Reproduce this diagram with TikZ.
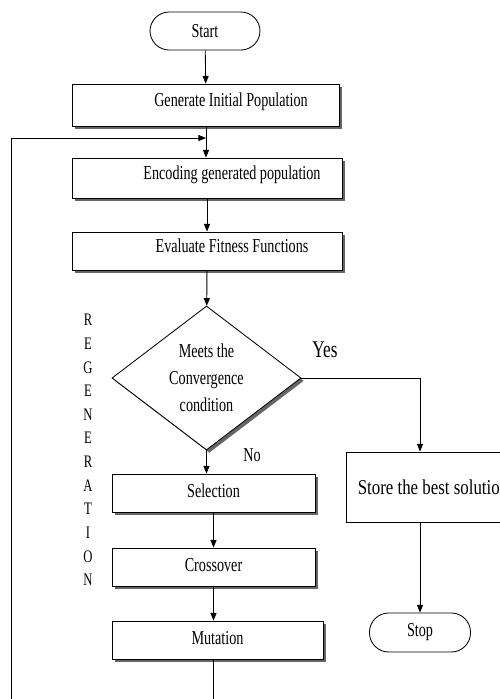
\documentclass[tikz,border=0pt]{standalone}
\usepackage{fontspec}
\setmainfont{Liberation Serif}
\newfontfamily\narrowfont[FakeStretch=0.72]{Liberation Serif}
\newfontfamily\storefont[FakeStretch=0.8]{Liberation Serif}
\usetikzlibrary{arrows.meta,positioning,shapes.geometric,shadows}

\tikzset{
  boxshadow/.style={drop shadow={shadow xshift=0.07cm, shadow yshift=-0.07cm, opacity=1, fill=black!60}},
  flowbox/.style={draw, fill=white, line width=0.6pt, minimum height=0.95cm,
    font=\narrowfont\fontsize{14}{17}\selectfont, text height=0.35cm, text depth=0.12cm, boxshadow},
  raised/.style={text height=0.35cm, text depth=0.27cm},
  terminal/.style={draw, fill=white, line width=0.6pt, rounded corners=0.48cm,
    font=\narrowfont\fontsize{14}{17}\selectfont},
  tag/.style={font=\narrowfont\fontsize{14}{17}\selectfont}
}

\begin{document}
\begin{tikzpicture}[x=0.025cm, y=-0.025cm, >={Triangle[length=1.9mm,width=1.5mm]}, line width=0.6pt]

\useasboundingbox (0,0) rectangle (500,699);
\clip (0,0) rectangle (500,699);

% Nodes
\node[terminal, minimum width=2.75cm, minimum height=0.95cm] (start) at (205,31) {Start};
\node[flowbox, raised, minimum width=6.675cm, minimum height=1.05cm] (gen) at (206,105) {\hspace*{1.25cm}Generate Initial Population};
\node[flowbox, raised, minimum width=6.75cm, minimum height=1.0cm] (enc) at (207,178) {\hspace*{1.25cm}Encoding generated population};
\node[flowbox, raised, minimum width=6.75cm] (eval) at (207,251) {\hspace*{1.25cm}Evaluate Fitness Functions};
\node[diamond, draw, fill=white, aspect=1.31, minimum width=4.725cm, minimum height=3.6cm, inner sep=0pt,
  align=center, font=\narrowfont\fontsize{14}{19.2}\selectfont, boxshadow] (cond) at (206.5,378) {Meets the\\Convergence\\condition};
\node[flowbox, minimum width=5.075cm] (sel) at (213.5,493) {Selection};
\node[flowbox, minimum width=5.075cm] (cross) at (213.5,567) {Crossover};
\node[flowbox, minimum width=5.275cm] (mut) at (217.5,640) {Mutation};
\node[draw, fill=white, minimum width=4.35cm, minimum height=1.75cm,
  font=\storefont\fontsize{15}{18}\selectfont] (store) at (433,487) {Store the best solution};
\node[terminal, minimum width=2.525cm, minimum height=0.975cm] (stop) at (420,632.5) {Stop};

% Labels
\node[font=\narrowfont\fontsize{17}{20}\selectfont] (yes) at (325,350) {Yes};
\node[tag] (no) at (252,455) {No};
\node[align=center, font=\narrowfont\fontsize{12.5}{16.8}\selectfont] (regen) at (88,450) {R\\E\\G\\E\\N\\E\\R\\A\\T\\I\\O\\N};

% Helper points
\coordinate (loopbot) at (11,699);
\coordinate (merge) at (206,138);
\coordinate (turn) at (420,378);

% Main path
\draw[->] (start) -- (gen);
\draw[->] (gen.south) -- (gen.south |- enc.north);
\draw[->] (enc.south) -- (enc.south |- eval.north);
\draw[->] (eval) -- (cond);
\draw[->] (cond.south) -- (cond.south |- sel.north);
\draw[->] (sel) -- (cross);
\draw[->] (cross.south) -- (cross.south |- mut.north);

% Yes branch
\draw[->] (cond.east) -- (turn) -- (turn |- store.north);
\draw[->] (turn |- store.south) -- (stop);

% Regeneration loop
\draw (cross.south |- mut.south) -- (cross.south |- loopbot);
\draw[->] (loopbot) |- (merge);

\end{tikzpicture}
\end{document}
